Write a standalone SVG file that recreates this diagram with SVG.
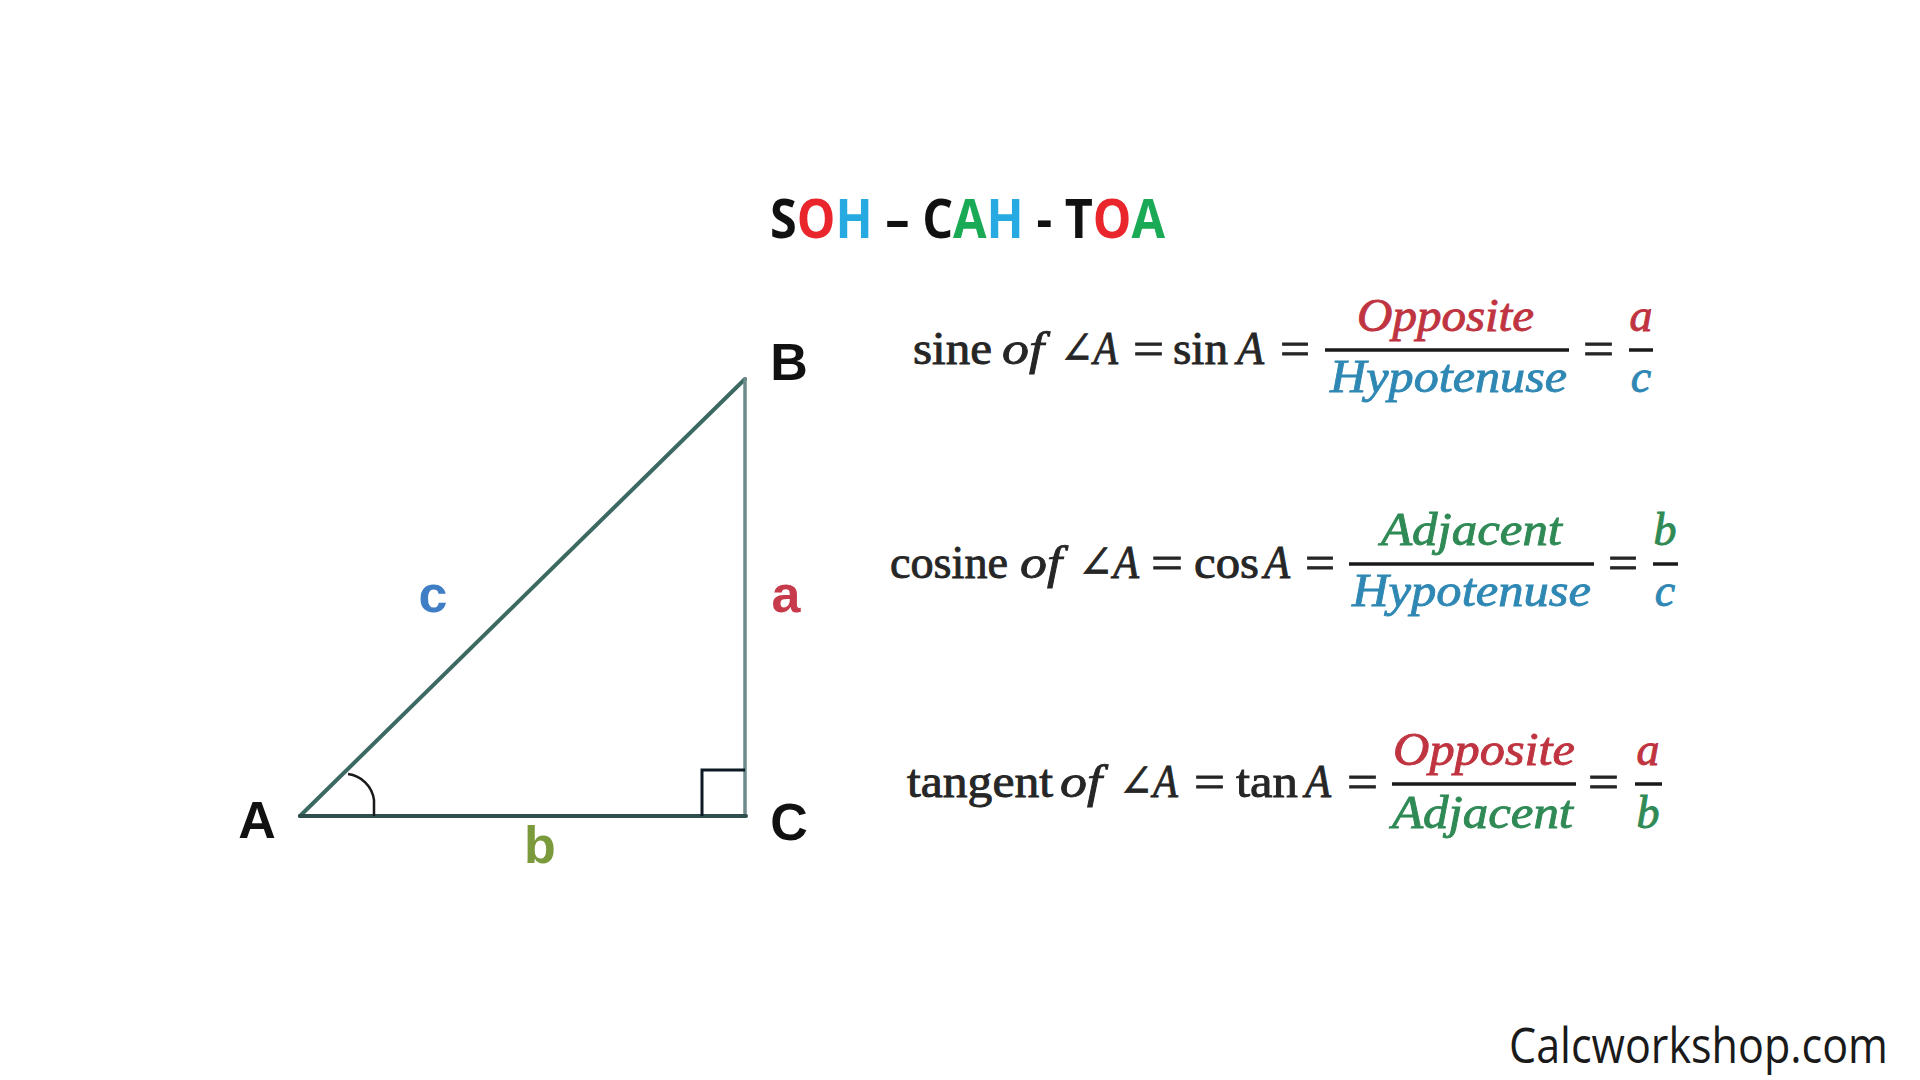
<svg xmlns="http://www.w3.org/2000/svg" width="1920" height="1080" viewBox="0 0 1920 1080">
<style>
.lbl{font-family:"Liberation Sans",Arial,sans-serif;font-weight:bold;font-size:52px;text-anchor:middle}
.m{font-family:"Liberation Serif","DejaVu Serif",serif;font-size:46px;fill:#262626;stroke:#262626;stroke-width:0.9}
.it{font-style:italic}
.ctr{text-anchor:middle}
.red{fill:#bf3440;stroke:#bf3440}
.blue{fill:#2f88b4;stroke:#2f88b4}
.green{fill:#2f8a55;stroke:#2f8a55}
.frac{stroke:#1a1a1a;stroke-width:3.5}
.side{fill:none;stroke-linecap:round}
</style>
<rect width="1920" height="1080" fill="#ffffff"/>

<g id="title">
<text x="770" y="238" font-family="'Open Sans','Liberation Sans',sans-serif" font-weight="bold" font-size="53" textLength="395" lengthAdjust="spacingAndGlyphs"><tspan fill="#111">S</tspan><tspan fill="#e8262c">O</tspan><tspan fill="#27a9e1">H</tspan><tspan fill="#111"> – C</tspan><tspan fill="#1aa955">A</tspan><tspan fill="#27a9e1">H</tspan><tspan fill="#111"> - T</tspan><tspan fill="#e8262c">O</tspan><tspan fill="#1aa955">A</tspan></text>
</g>

<g id="connectors">
<line class="side" x1="300" y1="816" x2="745" y2="379" stroke="#3c6a62" stroke-width="4"/>
<line class="side" x1="745" y1="379" x2="745" y2="816" stroke="#6e8a8a" stroke-width="3.5"/>
<line class="side" x1="300" y1="816" x2="746" y2="816" stroke="#2f4f4c" stroke-width="4"/>
<path d="M348,774 A30,30 0 0 1 374,800 L374,816" fill="none" stroke="#1a1a1a" stroke-width="2.5"/>
<path d="M702,816 L702,770 L745,770" fill="none" stroke="#0d1a26" stroke-width="3"/>
</g>

<g id="vertex-A"><text class="lbl" x="257" y="838" fill="#111">A</text></g>
<g id="vertex-B"><text class="lbl" x="789" y="380" fill="#111">B</text></g>
<g id="vertex-C"><text class="lbl" x="789" y="840" fill="#111">C</text></g>
<g id="side-c"><text class="lbl" x="433" y="612" fill="#3f7ec4">c</text></g>
<g id="side-a"><text class="lbl" x="786" y="612" fill="#c63a4b">a</text></g>
<g id="side-b"><text class="lbl" x="540" y="863" fill="#7b9a3c">b</text></g>

<g id="formula-sin">
<text class="m" x="913" y="364" textLength="79" lengthAdjust="spacingAndGlyphs">sine</text>
<text class="m it" x="1002" y="364" textLength="42" lengthAdjust="spacingAndGlyphs">of</text>
<text class="m" x="1060" y="364" textLength="58" lengthAdjust="spacingAndGlyphs">∠<tspan class="it">A</tspan></text>
<text class="m" x="1133" y="364" textLength="31" lengthAdjust="spacingAndGlyphs">=</text>
<text class="m" x="1173" y="364" textLength="55" lengthAdjust="spacingAndGlyphs">sin</text>
<text class="m it" x="1237" y="364" textLength="27" lengthAdjust="spacingAndGlyphs">A</text>
<text class="m" x="1280" y="364" textLength="30" lengthAdjust="spacingAndGlyphs">=</text>
<text class="m it red" x="1357" y="331" textLength="177" lengthAdjust="spacingAndGlyphs">Opposite</text>
<line class="frac" x1="1325" y1="350" x2="1569" y2="350"/>
<text class="m it blue" x="1330" y="392" textLength="237" lengthAdjust="spacingAndGlyphs">Hypotenuse</text>
<text class="m" x="1583" y="364" textLength="31" lengthAdjust="spacingAndGlyphs">=</text>
<text class="m it red ctr" x="1641" y="331">a</text>
<line class="frac" x1="1629" y1="350" x2="1653" y2="350"/>
<text class="m it blue ctr" x="1641" y="392">c</text>
</g>

<g id="formula-cos">
<text class="m" x="890" y="578" textLength="118" lengthAdjust="spacingAndGlyphs">cosine</text>
<text class="m it" x="1020" y="578" textLength="42" lengthAdjust="spacingAndGlyphs">of</text>
<text class="m" x="1078" y="578" textLength="61" lengthAdjust="spacingAndGlyphs">∠<tspan class="it">A</tspan></text>
<text class="m" x="1151" y="578" textLength="32" lengthAdjust="spacingAndGlyphs">=</text>
<text class="m" x="1194" y="578" textLength="65" lengthAdjust="spacingAndGlyphs">cos</text>
<text class="m it" x="1264" y="578" textLength="26" lengthAdjust="spacingAndGlyphs">A</text>
<text class="m" x="1305" y="578" textLength="30" lengthAdjust="spacingAndGlyphs">=</text>
<text class="m it green" x="1381" y="545" textLength="181" lengthAdjust="spacingAndGlyphs">Adjacent</text>
<line class="frac" x1="1349" y1="564" x2="1594" y2="564"/>
<text class="m it blue" x="1352" y="606" textLength="239" lengthAdjust="spacingAndGlyphs">Hypotenuse</text>
<text class="m" x="1608" y="578" textLength="30" lengthAdjust="spacingAndGlyphs">=</text>
<text class="m it green ctr" x="1665" y="545">b</text>
<line class="frac" x1="1653" y1="564" x2="1678" y2="564"/>
<text class="m it blue ctr" x="1665" y="606">c</text>
</g>

<g id="formula-tan">
<text class="m" x="907" y="797" textLength="146" lengthAdjust="spacingAndGlyphs">tangent</text>
<text class="m it" x="1060" y="797" textLength="42" lengthAdjust="spacingAndGlyphs">of</text>
<text class="m" x="1119" y="797" textLength="59" lengthAdjust="spacingAndGlyphs">∠<tspan class="it">A</tspan></text>
<text class="m" x="1194" y="797" textLength="31" lengthAdjust="spacingAndGlyphs">=</text>
<text class="m" x="1236" y="797" textLength="62" lengthAdjust="spacingAndGlyphs">tan</text>
<text class="m it" x="1305" y="797" textLength="26" lengthAdjust="spacingAndGlyphs">A</text>
<text class="m" x="1347" y="797" textLength="31" lengthAdjust="spacingAndGlyphs">=</text>
<text class="m it red" x="1393" y="765" textLength="182" lengthAdjust="spacingAndGlyphs">Opposite</text>
<line class="frac" x1="1392" y1="784" x2="1576" y2="784"/>
<text class="m it green" x="1392" y="828" textLength="181" lengthAdjust="spacingAndGlyphs">Adjacent</text>
<text class="m" x="1588" y="797" textLength="31" lengthAdjust="spacingAndGlyphs">=</text>
<text class="m it red ctr" x="1648" y="765">a</text>
<line class="frac" x1="1635" y1="784" x2="1662" y2="784"/>
<text class="m it green ctr" x="1648" y="828">b</text>
</g>

<g id="footer">
<text x="1509" y="1063" font-family="'Open Sans','Liberation Sans',sans-serif" font-size="50" fill="#1a1a1a" textLength="379" lengthAdjust="spacingAndGlyphs">Calcworkshop.com</text>
</g>
</svg>
